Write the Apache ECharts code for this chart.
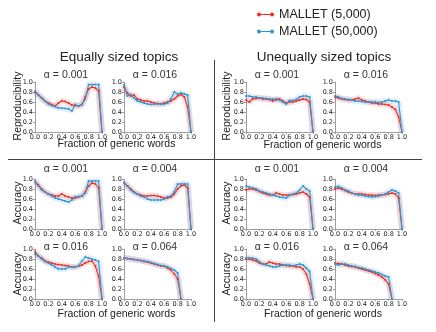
<!DOCTYPE html>
<html>
<head>
<meta charset="utf-8">
<script src="https://cdn.jsdelivr.net/npm/echarts@6/dist/echarts.min.js"></script>
<style>
  html, body { margin: 0; padding: 0; background: #fff; }
  #chart { width: 436px; height: 332px; }
</style>
</head>
<body>
<div id="chart"></div>
<script>
const fractions = [0, 0.05, 0.1, 0.15, 0.2, 0.25, 0.3, 0.35, 0.4, 0.45, 0.5,
  0.55, 0.6, 0.65, 0.7, 0.75, 0.8, 0.85, 0.9, 0.95, 1.0];
const seriesNames = ['MALLET (5,000)', 'MALLET (50,000)'];
const axisTicks = [0, 0.2, 0.4, 0.6, 0.8, 1.0];

// Equally sized topics, reproducibility
const eqRepA001_5k = [0.80, 0.74, 0.68, 0.62, 0.58, 0.55, 0.52, 0.58, 0.62, 0.61, 0.58, 0.54, 0.53, 0.52, 0.55, 0.70, 0.86, 0.90, 0.88, 0.82, 0.00];
const eqRepA001_50k = [0.82, 0.74, 0.68, 0.62, 0.56, 0.53, 0.51, 0.48, 0.48, 0.47, 0.46, 0.42, 0.55, 0.52, 0.55, 0.66, 0.95, 0.95, 0.95, 0.95, 0.00];
const eqRepA016_5k = [0.90, 0.78, 0.72, 0.74, 0.66, 0.64, 0.62, 0.62, 0.60, 0.58, 0.57, 0.56, 0.58, 0.60, 0.62, 0.66, 0.72, 0.75, 0.70, 0.50, 0.00];
const eqRepA016_50k = [0.95, 0.72, 0.75, 0.68, 0.62, 0.60, 0.58, 0.56, 0.55, 0.56, 0.56, 0.56, 0.56, 0.58, 0.66, 0.80, 0.76, 0.78, 0.76, 0.74, 0.00];

// Unequally sized topics, reproducibility
const uneqRepA001_5k = [0.64, 0.60, 0.66, 0.67, 0.68, 0.66, 0.66, 0.65, 0.62, 0.66, 0.66, 0.62, 0.58, 0.60, 0.60, 0.62, 0.64, 0.66, 0.65, 0.60, 0.00];
const uneqRepA001_50k = [0.72, 0.72, 0.70, 0.70, 0.68, 0.68, 0.67, 0.66, 0.66, 0.64, 0.64, 0.60, 0.56, 0.63, 0.63, 0.65, 0.70, 0.72, 0.72, 0.70, 0.00];
const uneqRepA016_5k = [0.70, 0.68, 0.66, 0.65, 0.64, 0.64, 0.66, 0.68, 0.64, 0.62, 0.60, 0.58, 0.58, 0.56, 0.56, 0.55, 0.54, 0.50, 0.45, 0.30, 0.00];
const uneqRepA016_50k = [0.72, 0.70, 0.67, 0.66, 0.65, 0.64, 0.62, 0.62, 0.61, 0.60, 0.60, 0.60, 0.60, 0.59, 0.60, 0.62, 0.64, 0.62, 0.62, 0.60, 0.00];

// Equally sized topics, accuracy
const eqAccA001_5k = [0.95, 0.88, 0.80, 0.74, 0.70, 0.68, 0.66, 0.66, 0.70, 0.66, 0.64, 0.62, 0.62, 0.64, 0.66, 0.74, 0.86, 0.92, 0.90, 0.82, 0.00];
const eqAccA001_50k = [0.95, 0.86, 0.78, 0.74, 0.70, 0.66, 0.62, 0.60, 0.58, 0.56, 0.54, 0.58, 0.64, 0.65, 0.66, 0.72, 0.96, 0.96, 0.96, 0.96, 0.00];
const eqAccA004_5k = [0.93, 0.86, 0.80, 0.74, 0.70, 0.68, 0.66, 0.66, 0.67, 0.67, 0.66, 0.64, 0.62, 0.62, 0.64, 0.70, 0.80, 0.86, 0.88, 0.82, 0.00];
const eqAccA004_50k = [0.93, 0.86, 0.78, 0.73, 0.70, 0.66, 0.64, 0.60, 0.58, 0.58, 0.58, 0.58, 0.60, 0.64, 0.66, 0.74, 0.90, 0.90, 0.90, 0.90, 0.00];
const eqAccA016_5k = [0.95, 0.86, 0.82, 0.76, 0.74, 0.72, 0.70, 0.69, 0.68, 0.67, 0.66, 0.64, 0.64, 0.66, 0.68, 0.72, 0.75, 0.76, 0.66, 0.45, 0.00];
const eqAccA016_50k = [0.90, 0.86, 0.80, 0.75, 0.72, 0.68, 0.64, 0.60, 0.60, 0.60, 0.64, 0.64, 0.64, 0.66, 0.76, 0.84, 0.82, 0.80, 0.78, 0.75, 0.00];
const eqAccA064_5k = [0.82, 0.81, 0.80, 0.79, 0.78, 0.77, 0.75, 0.74, 0.72, 0.70, 0.68, 0.66, 0.66, 0.62, 0.58, 0.50, 0.40, 0.00];
const eqAccA064_50k = [0.82, 0.81, 0.80, 0.79, 0.78, 0.77, 0.76, 0.75, 0.73, 0.71, 0.69, 0.67, 0.66, 0.64, 0.61, 0.58, 0.52, 0.00];

// Unequally sized topics, accuracy
const uneqAccA001_5k = [0.78, 0.80, 0.80, 0.78, 0.75, 0.72, 0.70, 0.68, 0.68, 0.72, 0.70, 0.68, 0.68, 0.68, 0.69, 0.70, 0.72, 0.74, 0.70, 0.64, 0.00];
const uneqAccA001_50k = [0.86, 0.84, 0.82, 0.80, 0.76, 0.74, 0.72, 0.70, 0.68, 0.66, 0.64, 0.63, 0.62, 0.68, 0.70, 0.72, 0.78, 0.86, 0.80, 0.76, 0.00];
const uneqAccA004_5k = [0.80, 0.82, 0.80, 0.77, 0.74, 0.72, 0.70, 0.70, 0.70, 0.69, 0.68, 0.68, 0.67, 0.68, 0.68, 0.69, 0.70, 0.72, 0.70, 0.62, 0.00];
const uneqAccA004_50k = [0.84, 0.85, 0.82, 0.78, 0.76, 0.72, 0.70, 0.68, 0.68, 0.66, 0.65, 0.64, 0.65, 0.66, 0.68, 0.70, 0.74, 0.78, 0.76, 0.72, 0.00];
const uneqAccA016_5k = [0.80, 0.80, 0.78, 0.76, 0.72, 0.70, 0.70, 0.74, 0.72, 0.70, 0.70, 0.68, 0.67, 0.66, 0.66, 0.64, 0.64, 0.60, 0.50, 0.30, 0.00];
const uneqAccA016_50k = [0.82, 0.82, 0.82, 0.80, 0.74, 0.70, 0.68, 0.66, 0.64, 0.64, 0.66, 0.68, 0.68, 0.68, 0.66, 0.68, 0.70, 0.68, 0.62, 0.55, 0.00];
const uneqAccA064_5k = [0.72, 0.71, 0.70, 0.68, 0.66, 0.65, 0.64, 0.62, 0.60, 0.58, 0.56, 0.54, 0.51, 0.48, 0.44, 0.38, 0.30, 0.00];
const uneqAccA064_50k = [0.70, 0.68, 0.70, 0.70, 0.68, 0.66, 0.65, 0.63, 0.62, 0.60, 0.58, 0.56, 0.54, 0.52, 0.49, 0.46, 0.44, 0.00];

const RED = '#e8312a';
const BLUE = '#3395d0';
const FONT = '"Liberation Sans", Arial, sans-serif';
const TICK_FONT = '"DejaVu Sans", sans-serif';

const COLS = [35, 124, 246, 335];
const ROWS = [82, 179, 249];
const PANEL_W = 67;
const PANEL_H = 50;

const panels = [
  { row: 0, col: 0, alpha: '0.001', red: eqRepA001_5k, blue: eqRepA001_50k },
  { row: 0, col: 1, alpha: '0.016', red: eqRepA016_5k, blue: eqRepA016_50k },
  { row: 0, col: 2, alpha: '0.001', red: uneqRepA001_5k, blue: uneqRepA001_50k },
  { row: 0, col: 3, alpha: '0.016', red: uneqRepA016_5k, blue: uneqRepA016_50k },
  { row: 1, col: 0, alpha: '0.001', red: eqAccA001_5k, blue: eqAccA001_50k },
  { row: 1, col: 1, alpha: '0.004', red: eqAccA004_5k, blue: eqAccA004_50k },
  { row: 1, col: 2, alpha: '0.001', red: uneqAccA001_5k, blue: uneqAccA001_50k },
  { row: 1, col: 3, alpha: '0.004', red: uneqAccA004_5k, blue: uneqAccA004_50k },
  { row: 2, col: 0, alpha: '0.016', red: eqAccA016_5k, blue: eqAccA016_50k },
  { row: 2, col: 1, alpha: '0.064', red: eqAccA064_5k, blue: eqAccA064_50k },
  { row: 2, col: 2, alpha: '0.016', red: uneqAccA016_5k, blue: uneqAccA016_50k },
  { row: 2, col: 3, alpha: '0.064', red: uneqAccA064_5k, blue: uneqAccA064_50k },
];

const TITLE_Y = [75, 169, 247];

function pairs(values) {
  return values.map((v, i) => [fractions[i], v]);
}

function axisConfig(idx) {
  return {
    type: 'value',
    gridIndex: idx,
    min: axisTicks[0],
    max: axisTicks[axisTicks.length - 1],
    interval: 0.2,
    splitLine: { show: false },
    axisLine: { show: true, lineStyle: { color: '#a0a0a0', width: 1 } },
    axisTick: { show: true, length: 2, lineStyle: { color: '#a0a0a0' } },
    axisLabel: {
      fontSize: 6.5,
      fontFamily: TICK_FONT,
      color: '#222',
      margin: 2,
      formatter: v => v.toFixed(1)
    }
  };
}

function textEl(text, x, y, size, opts) {
  return Object.assign({
    type: 'text',
    x: x,
    y: y,
    silent: true,
    style: {
      text: text,
      fontSize: size,
      fontFamily: FONT,
      fill: '#222',
      align: 'center',
      verticalAlign: 'middle'
    }
  }, opts || {});
}

function buildOption() {
  const grid = [], xAxis = [], yAxis = [], series = [], graphic = [];

  panels.forEach((p, idx) => {
    grid.push({ left: COLS[p.col], top: ROWS[p.row], width: PANEL_W, height: PANEL_H });
    xAxis.push(axisConfig(idx));
    yAxis.push(axisConfig(idx));

    [[p.red, RED, seriesNames[0]], [p.blue, BLUE, seriesNames[1]]].forEach(([vals, color, name]) => {
      // soft band around each curve
      series.push({
        name: name + ' band',
        type: 'line',
        xAxisIndex: idx,
        yAxisIndex: idx,
        data: pairs(vals),
        showSymbol: false,
        silent: true,
        z: 1,
        lineStyle: { color: color, width: 6, opacity: 0.15 },
        animation: false
      });
      series.push({
        name: name,
        type: 'line',
        xAxisIndex: idx,
        yAxisIndex: idx,
        data: pairs(vals),
        symbol: 'circle',
        symbolSize: 2,
        z: 3,
        itemStyle: { color: color },
        lineStyle: { color: color, width: 1.1 },
        animation: false
      });
    });

    const cx = COLS[p.col] + PANEL_W / 2 - 2.5;
    graphic.push(textEl('\u03b1 = ' + p.alpha, cx, TITLE_Y[p.row], 10.5, { style: {
      text: '\u03b1 = ' + p.alpha, fontSize: 10.5, fontFamily: FONT, fill: '#333',
      align: 'center', verticalAlign: 'middle'
    } }));
  });

  // headings
  graphic.push(textEl('Equally sized topics', 119, 57, 13.5));
  graphic.push(textEl('Unequally sized topics', 324, 57, 13.5));

  // y-axis names
  const yNames = [['Reproducibility', 106], ['Accuracy', 203], ['Accuracy', 274]];
  yNames.forEach(([t, y]) => {
    graphic.push(textEl(t, 18, y, 10.5, { rotation: Math.PI / 2 }));
    graphic.push(textEl(t, 227, y, 10.5, { rotation: Math.PI / 2 }));
  });

  // x-axis names
  graphic.push(textEl('Fraction of generic words', 116.5, 144, 10.5));
  graphic.push(textEl('Fraction of generic words', 322.5, 145, 10.5));
  graphic.push(textEl('Fraction of generic words', 116.5, 314, 10.5));
  graphic.push(textEl('Fraction of generic words', 323, 314, 10.5));

  // separators
  graphic.push({ type: 'line', silent: true, shape: { x1: 214.5, y1: 60, x2: 214.5, y2: 322 },
    style: { stroke: '#444', lineWidth: 1 } });
  graphic.push({ type: 'line', silent: true, shape: { x1: 8, y1: 159.5, x2: 422, y2: 159.5 },
    style: { stroke: '#444', lineWidth: 1 } });

  const legendIcon = 'path://M0,4a4,4 0 1,0 8,0a4,4 0 1,0 -8,0z M26,4a4,4 0 1,0 8,0a4,4 0 1,0 -8,0z M8,3h18v2h-18z';

  return {
    animation: false,
    legend: {
      orient: 'vertical',
      left: 257,
      top: 8,
      itemWidth: 17,
      itemHeight: 4,
      itemGap: 4,
      padding: 0,
      selectedMode: false,
      data: seriesNames.map(n => ({ name: n, icon: legendIcon })),
      textStyle: { fontSize: 12.5, fontFamily: FONT, color: '#222', lineHeight: 13 }
    },
    grid: grid,
    xAxis: xAxis,
    yAxis: yAxis,
    series: series,
    graphic: graphic
  };
}

const chart = echarts.init(document.getElementById('chart'));
chart.setOption(buildOption());
</script>
</body>
</html>
